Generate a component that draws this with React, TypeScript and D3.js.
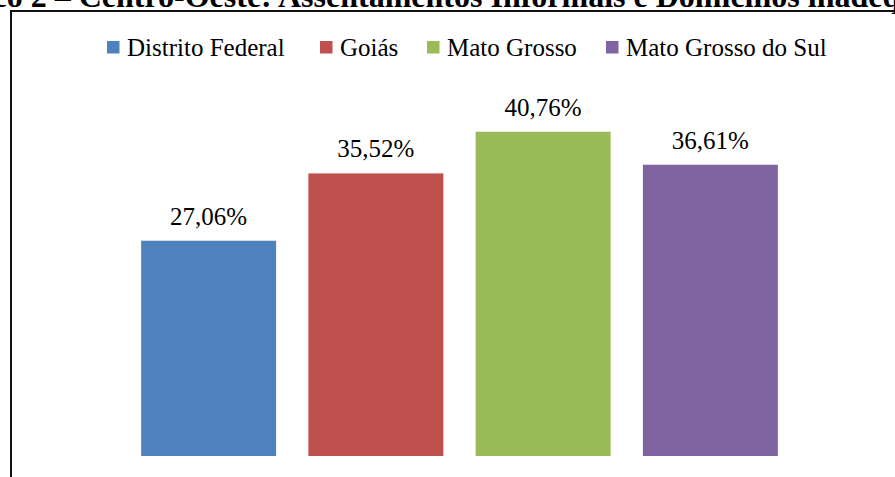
import { useEffect, useRef } from "react";
import * as d3 from "d3";

const states = ["Distrito Federal", "Goiás", "Mato Grosso", "Mato Grosso do Sul"];
const values = [27.06, 35.52, 40.76, 36.61];
const colors = ["#4F81BD", "#C0504D", "#9BBB59", "#8064A2"];
const title = "Gráfico 2 – Centro-Oeste: Assentamentos Informais e Domicílios inadequados";

const App = () => {
  const ref = useRef<SVGSVGElement>(null);

  const width = 895;
  const height = 477;
  const baseY = 456;
  // legend swatch positions, as laid out in the original
  const legendX = [107, 320, 427, 606];

  const x = d3
    .scaleBand()
    .domain(states)
    .range([125, 794])
    .paddingInner(0.193)
    .paddingOuter(0.0965);

  const y = d3.scaleLinear().domain([0, 45]).range([baseY, 98]);

  useEffect(() => {
    const svg = d3.select(ref.current);
    svg.selectAll("*").remove();
    svg.attr("width", width).attr("height", height).attr("viewBox", [0, 0, width, height]);

    svg.append("rect").attr("width", width).attr("height", height).attr("fill", "#fff");

    // title (cut off at the top of the picture, the page was cropped)
    const t = svg
      .append("text")
      .attr("y", 7)
      .attr("font-family", "'Liberation Serif', serif")
      .attr("font-weight", "bold")
      .attr("font-size", 32)
      .attr("fill", "#000")
      .text(title);
    const idx = title.indexOf("Assentamentos");
    const pre = (t.node() as SVGTextElement).getSubStringLength(0, idx);
    t.attr("x", 278 - pre);

    // chart frame
    svg
      .append("rect")
      .attr("x", 11)
      .attr("y", 11)
      .attr("width", 1000)
      .attr("height", 600)
      .attr("fill", "none")
      .attr("stroke", "#111")
      .attr("stroke-width", 2);

    // bars
    svg
      .append("g")
      .selectAll("rect")
      .data(states)
      .join("rect")
      .attr("x", (d) => x(d)!)
      .attr("y", (d, i) => y(values[i]))
      .attr("width", x.bandwidth())
      .attr("height", (d, i) => baseY - y(values[i]))
      .attr("fill", (d, i) => colors[i]);

    // value labels
    svg
      .append("g")
      .attr("font-family", "'Liberation Serif', serif")
      .attr("font-size", 25)
      .attr("text-anchor", "middle")
      .attr("fill", "#000")
      .selectAll("text")
      .data(states)
      .join("text")
      .attr("x", (d) => x(d)! + x.bandwidth() / 2)
      .attr("y", (d, i) => y(values[i]) - 16)
      .text((d, i) => values[i].toFixed(2).replace(".", ",") + "%");

    // legend
    const legend = svg
      .append("g")
      .attr("font-family", "'Liberation Serif', serif")
      .attr("font-size", 25)
      .attr("fill", "#000");
    states.forEach((s, i) => {
      legend
        .append("rect")
        .attr("x", legendX[i])
        .attr("y", 41)
        .attr("width", 12.5)
        .attr("height", 12.5)
        .attr("fill", colors[i]);
      legend
        .append("text")
        .attr("x", legendX[i] + 20)
        .attr("y", 56)
        .text(s);
    });
  });

  return (
    <svg
      ref={ref}
      style={{ position: "absolute", left: 0, top: 0, display: "block" }}
    ></svg>
  );
};

export default App;
